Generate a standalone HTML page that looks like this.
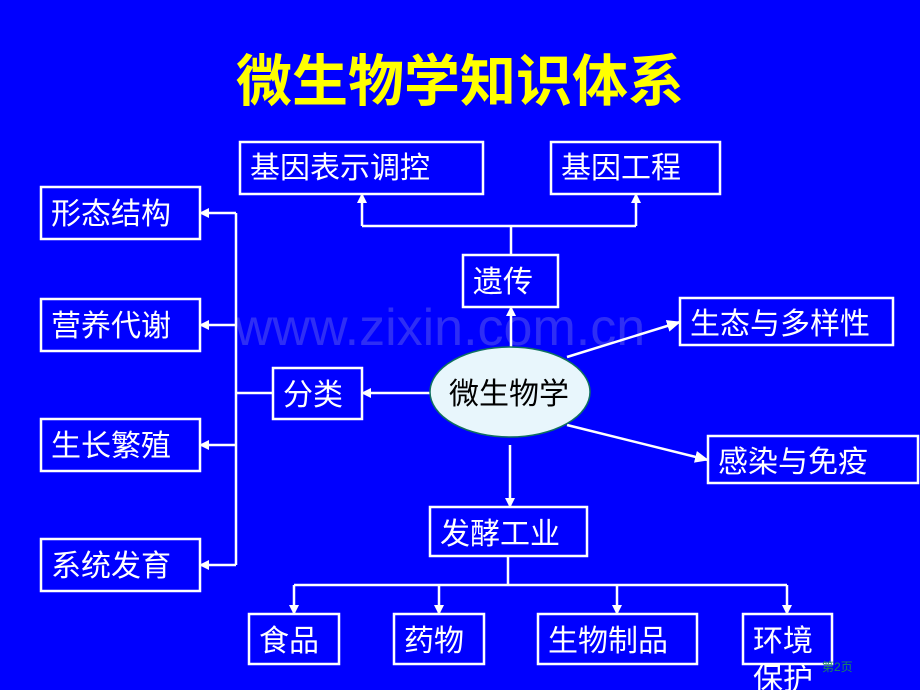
<!DOCTYPE html>
<html><head><meta charset="utf-8"><style>
body{margin:0;background:#0000ff;}
svg{display:block}
text{font-family:"Liberation Sans","Noto Sans CJK SC",sans-serif;}
</style></head><body>
<svg width="920" height="690" viewBox="0 0 920 690">
<defs><marker id="a" markerWidth="10" markerHeight="10" refX="9" refY="5" orient="auto" markerUnits="userSpaceOnUse"><path d="M0,0 L10,5 L0,10 Z" fill="#fff"/></marker>
<marker id="b" markerWidth="14" markerHeight="12" refX="13" refY="6" orient="auto" markerUnits="userSpaceOnUse"><path d="M0,0 L14,6 L0,12 Z" fill="#fff"/></marker></defs>
<rect width="920" height="690" fill="#0000ff"/>
<text x="460" y="101" text-anchor="middle" font-size="56" font-weight="bold" fill="#ffff00" font-family="'Noto Sans CJK SC',sans-serif">微生物学知识体系</text>
<text x="440" y="345" text-anchor="middle" font-size="52" fill="#2e2ef5" font-family="'Liberation Sans',sans-serif">www.zixin.com.cn</text>
<g fill="none" stroke="#fff" stroke-width="2.5">
<rect x="240" y="142" width="243" height="52"/>
<rect x="551" y="142" width="169" height="52"/>
<rect x="41" y="187" width="159" height="52"/>
<rect x="41" y="299" width="159" height="52"/>
<rect x="41" y="419" width="159" height="52"/>
<rect x="41" y="539" width="159" height="52"/>
<rect x="463" y="255" width="95" height="52"/>
<rect x="680" y="298" width="213" height="47"/>
<rect x="273" y="368" width="89" height="51"/>
<rect x="708" y="436" width="210" height="47"/>
<rect x="430" y="507" width="157" height="49"/>
<rect x="249" y="614" width="90" height="50"/>
<rect x="394" y="614" width="90" height="50"/>
<rect x="538" y="614" width="159" height="50"/>
<rect x="743" y="614" width="89" height="50"/>
<path d="M511 255V226M362 226H636"/>
<path d="M362 226V194" marker-end="url(#a)"/>
<path d="M636 226V194" marker-end="url(#a)"/>
<path d="M511 347V307" marker-end="url(#a)"/>
<path d="M430 393H362" marker-end="url(#a)"/>
<path d="M273 393H236M236 213V565"/>
<path d="M236 213H200" marker-end="url(#a)"/>
<path d="M236 325H200" marker-end="url(#a)"/>
<path d="M236 445H200" marker-end="url(#a)"/>
<path d="M236 565H200" marker-end="url(#a)"/>
<path d="M567 357L680 322" marker-end="url(#b)"/>
<path d="M567 425L708 460" marker-end="url(#b)"/>
<path d="M510 445V507" marker-end="url(#a)"/>
<path d="M508 556V585M294 585H787"/>
<path d="M294 585V614" marker-end="url(#a)"/>
<path d="M439 585V614" marker-end="url(#a)"/>
<path d="M617 585V614" marker-end="url(#a)"/>
<path d="M787 585V614" marker-end="url(#a)"/>
</g>
<ellipse cx="510" cy="392" rx="80" ry="45" fill="#e8f6fc" stroke="#107060" stroke-width="1.5"/>
<g fill="#fff" font-size="30">
<text x="250" y="178">基因表示调控</text>
<text x="561" y="178">基因工程</text>
<text x="51" y="224">形态结构</text>
<text x="51" y="336">营养代谢</text>
<text x="51" y="456">生长繁殖</text>
<text x="51" y="576">系统发育</text>
<text x="473" y="292">遗传</text>
<text x="690" y="334">生态与多样性</text>
<text x="283" y="405">分类</text>
<text x="718" y="472">感染与免疫</text>
<text x="440" y="544">发酵工业</text>
<text x="259" y="651">食品</text>
<text x="404" y="651">药物</text>
<text x="548" y="651">生物制品</text>
<text x="753" y="651">环境</text>
<text x="753" y="689">保护</text>
</g>
<text x="449" y="404" font-size="30" fill="#000">微生物学</text>
<text x="822" y="671" font-size="12" fill="#1a8a5a">第2页</text>
</svg>
</body></html>
